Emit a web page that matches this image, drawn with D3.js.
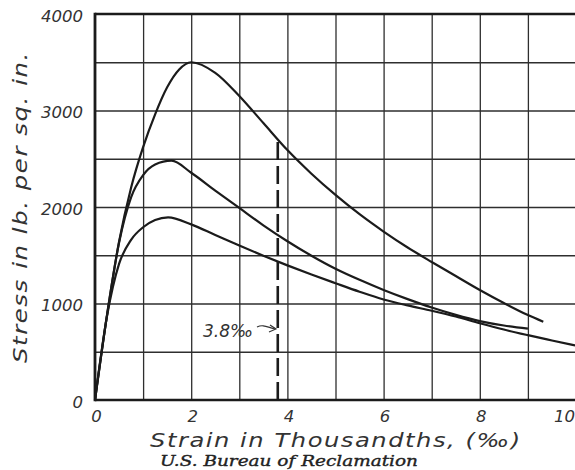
<!DOCTYPE html>
<html><head><meta charset="utf-8">
<script src="https://cdn.jsdelivr.net/npm/d3@7"></script>
<style>html,body{margin:0;padding:0;background:#fff;overflow:hidden}</style>
</head><body>
<svg id="c" width="575" height="470" xmlns="http://www.w3.org/2000/svg"></svg>
<script>
// ---- data ----
const xTickValues = [0, 2, 4, 6, 8, 10];
const yTickValues = [0, 1000, 2000, 3000, 4000];
const xGridValues = [1, 2, 3, 4, 5, 6, 7, 8, 9, 10];
const yGridValues = [500, 1000, 1500, 2000, 2500, 3000, 3500];

const curveAStrain = [0, 0.25, 0.5, 0.75, 1.0, 1.25, 1.5, 1.75, 2.0, 2.5, 3.0, 3.5, 4.0, 4.5, 5.0, 5.5, 6.0, 6.5, 7.0, 7.5, 8.0, 8.5, 9.0, 9.32];
const curveAStress = [0, 880, 1640, 2200, 2620, 2960, 3240, 3425, 3500, 3390, 3150, 2870, 2590, 2345, 2125, 1925, 1745, 1580, 1430, 1285, 1140, 1005, 880, 811];

const curveBStrain = [0, 0.25, 0.5, 0.75, 1.0, 1.25, 1.59, 2.0, 2.5, 3.0, 3.5, 4.0, 4.5, 5.0, 5.5, 6.0, 6.5, 7.0, 7.5, 8.0, 8.5, 9.0];
const curveBStress = [0, 880, 1630, 2100, 2330, 2440, 2480, 2355, 2170, 1990, 1810, 1645, 1495, 1360, 1245, 1140, 1045, 958, 882, 818, 772, 740];

const curveCStrain = [0, 0.25, 0.5, 0.75, 1.0, 1.25, 1.52, 2.0, 2.5, 3.0, 3.5, 4.0, 4.5, 5.0, 5.5, 6.0, 6.5, 7.0, 7.5, 8.0, 8.5, 9.0, 9.5, 10.0];
const curveCStress = [0, 870, 1410, 1660, 1790, 1865, 1893, 1820, 1710, 1600, 1495, 1395, 1300, 1210, 1122, 1042, 980, 925, 865, 795, 730, 672, 617, 563];

const markStrain = 3.8;
const markLabel = "3.8\u2030";
const xTitle = "Strain in Thousandths, (\u2030)";
const yTitle = "Stress in lb. per sq. in.";
const credit = "U.S. Bureau of Reclamation";

// ---- drawing ----
const svg = d3.select("#c");
const x = d3.scaleLinear().domain([0, 10]).range([95, 576]);
const y = d3.scaleLinear().domain([0, 4000]).range([400, 14]);
const ink = "#1b1b1b";
const labFont = "'DejaVu Sans', sans-serif";

// grid
const gx = svg.append("g").attr("transform", "translate(0,400)")
  .call(d3.axisBottom(x).tickValues(xGridValues).tickSize(-386).tickFormat(""));
gx.select(".domain").remove();
gx.selectAll("line").attr("stroke", "#2e2e2e").attr("stroke-width", 1.3);

const gy = svg.append("g").attr("transform", "translate(95,0)")
  .call(d3.axisLeft(y).tickValues(yGridValues).tickSize(-481).tickFormat(""));
gy.select(".domain").remove();
gy.selectAll("line").attr("stroke", "#2e2e2e").attr("stroke-width", 1.3);

// frame
svg.append("line").attr("x1", x(0)).attr("x2", x(10)).attr("y1", y(4000)).attr("y2", y(4000))
  .attr("stroke", ink).attr("stroke-width", 2.4);
svg.append("line").attr("x1", x(0)).attr("x2", x(10)).attr("y1", y(0)).attr("y2", y(0))
  .attr("stroke", ink).attr("stroke-width", 2.6);
svg.append("line").attr("x1", x(0)).attr("x2", x(0)).attr("y1", y(0) + 1.3).attr("y2", y(4000) - 1.2)
  .attr("stroke", ink).attr("stroke-width", 2.8);

// tick labels
const ax = svg.append("g").attr("transform", "translate(0,400)")
  .call(d3.axisBottom(x).tickValues(xTickValues).tickSize(0).tickPadding(10).tickFormat(d3.format("d")));
ax.select(".domain").remove();
ax.selectAll("text").attr("font-family", labFont).attr("font-style", "italic")
  .attr("font-size", 16.5).attr("fill", "#333")
  .attr("dx", d => d === 10 ? -12 : 1);

const ay = svg.append("g").attr("transform", "translate(95,0)")
  .call(d3.axisLeft(y).tickValues(yTickValues).tickSize(0).tickPadding(12).tickFormat(d3.format("d")));
ay.select(".domain").remove();
ay.selectAll("text").attr("font-family", labFont).attr("font-style", "italic")
  .attr("font-size", 16.5).attr("fill", "#333").attr("dy", "0.45em");

// curves
const line = d3.line().x(d => x(d[0])).y(d => y(d[1])).curve(d3.curveMonotoneX);
[[curveAStrain, curveAStress], [curveBStrain, curveBStress], [curveCStrain, curveCStress]].forEach(([sx, sy]) => {
  svg.append("path").attr("d", line(d3.zip(sx, sy)))
    .attr("fill", "none").attr("stroke", ink).attr("stroke-width", 2.2).attr("stroke-linejoin", "round");
});

// dashed 3.8 marker up to curve A
const aAt = d3.scaleLinear().domain(curveAStrain).range(curveAStress)(markStrain);
svg.append("line").attr("x1", x(markStrain)).attr("x2", x(markStrain))
  .attr("y1", y(0)).attr("y2", y(aAt))
  .attr("stroke", ink).attr("stroke-width", 2.6).attr("stroke-dasharray", "18,6");

svg.append("text").attr("x", 228).attr("y", 337).attr("text-anchor", "middle")
  .attr("font-family", labFont).attr("font-style", "italic").attr("font-size", 17)
  .attr("fill", "#333").text(markLabel);
svg.append("path").attr("d", "M257,327 C263,324 267,327 275,329")
  .attr("fill", "none").attr("stroke", "#333").attr("stroke-width", 1.2);
svg.append("path").attr("d", "M270,325 L276,329 L269,332")
  .attr("fill", "none").attr("stroke", "#333").attr("stroke-width", 1.2);

// titles (stretched lettering)
function stretched(txt, size, width, tf) {
  const t = svg.append("text").attr("x", 0).attr("y", 0).attr("text-anchor", "start")
    .attr("font-family", labFont).attr("font-style", "italic").attr("font-size", size)
    .attr("fill", "#333").attr("letter-spacing", 1.2).text(txt);
  const L = t.node().getComputedTextLength();
  t.attr("transform", tf + " scale(" + (width / L) + ",1)");
  return t;
}
stretched(xTitle, 19, 372, "translate(150,447)");
stretched(yTitle, 19, 312, "translate(27,363) rotate(-90)");

svg.append("text").attr("x", 289).attr("y", 466).attr("text-anchor", "middle")
  .attr("font-family", "'DejaVu Serif', serif").attr("font-style", "italic")
  .attr("font-size", 14).attr("fill", "#222").attr("stroke", "#222").attr("stroke-width", 0.35)
  .attr("textLength", 258).attr("lengthAdjust", "spacingAndGlyphs").text(credit);
</script>
</body></html>
